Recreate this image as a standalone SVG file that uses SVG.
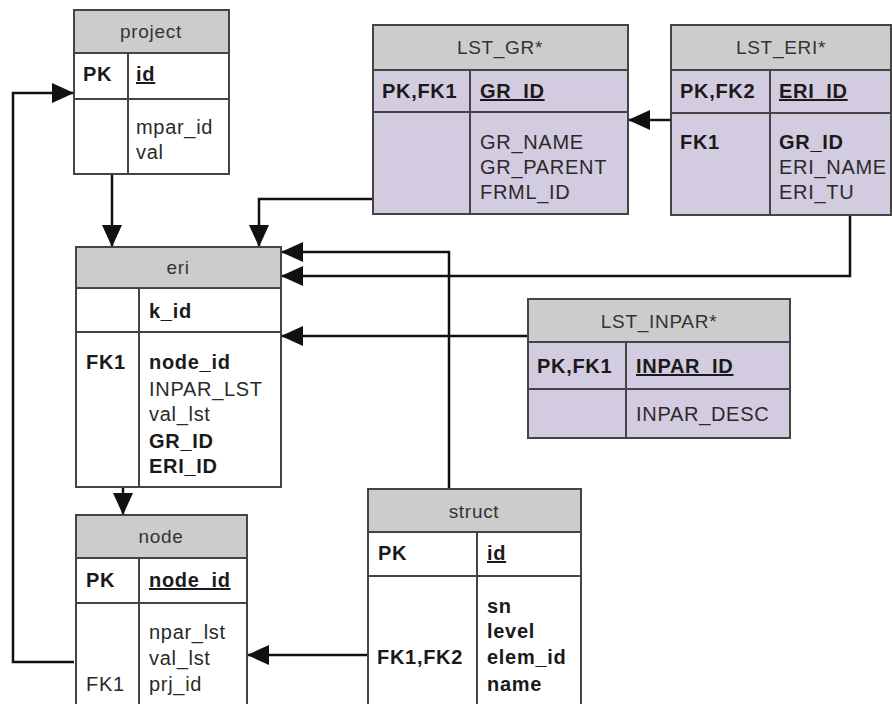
<svg xmlns="http://www.w3.org/2000/svg" width="892" height="704" viewBox="0 0 892 704">
<defs>
<marker id="arr" markerUnits="userSpaceOnUse" markerWidth="24" markerHeight="22" refX="22" refY="10" orient="auto">
<path d="M0,0 L22,10 L0,20 Z" fill="#111"/>
</marker>
<style>
.box{fill:#fff;stroke:#444;stroke-width:2}
.lav{fill:#d3cbdf;stroke:#444;stroke-width:2}
.hdr{fill:#cccccc;stroke:#444;stroke-width:2}
.ln{stroke:#444;stroke-width:2;fill:none}
.t{font-family:"Liberation Sans",Arial,sans-serif;font-size:20px;letter-spacing:0.7px;fill:#2a2a2a}
.h{font-family:"Liberation Sans",Arial,sans-serif;font-size:19px;letter-spacing:0.7px;fill:#333;text-anchor:middle}
.b{font-weight:bold;fill:#1a1a1a}
.u{text-decoration:underline}
.c{fill:none;stroke:#111;stroke-width:2.5}
</style>
</defs>
<rect width="892" height="704" fill="#fff"/>

<g id="connectors">
<polyline class="c" points="74,662 13,662 13,93 74,93" marker-end="url(#arr)"/>
<polyline class="c" points="112,174 112,247" marker-end="url(#arr)"/>
<polyline class="c" points="373,199 259,199 259,247" marker-end="url(#arr)"/>
<polyline class="c" points="671,120 628,120" marker-end="url(#arr)"/>
<polyline class="c" points="850,215 850,276 281,276" marker-end="url(#arr)"/>
<polyline class="c" points="449,489 449,252 281,252" marker-end="url(#arr)"/>
<polyline class="c" points="528,336 281,336" marker-end="url(#arr)"/>
<polyline class="c" points="123,487 123,515" marker-end="url(#arr)"/>
<polyline class="c" points="368,655 247,655" marker-end="url(#arr)"/>
</g>

<g id="project">
<rect class="box" x="74" y="10" width="155" height="164"/>
<rect class="hdr" x="74" y="10" width="155" height="43"/>
<line class="ln" x1="74" y1="99" x2="229" y2="99"/>
<line class="ln" x1="128" y1="53" x2="128" y2="174"/>
<text class="h" x="151" y="38">project</text>
<text class="t b" x="83" y="81">PK</text>
<text class="t b u" x="136" y="81">id</text>
<text class="t" x="136" y="134">mpar_id</text>
<text class="t" x="136" y="159">val</text>
</g>

<g id="LST_GR">
<rect class="lav" x="373" y="25" width="255" height="189"/>
<rect class="hdr" x="373" y="25" width="255" height="45"/>
<line class="ln" x1="373" y1="112" x2="628" y2="112"/>
<line class="ln" x1="470" y1="70" x2="470" y2="214"/>
<text class="h" x="500" y="54">LST_GR*</text>
<text class="t b" x="382" y="98">PK,FK1</text>
<text class="t b u" x="480" y="98">GR_ID</text>
<text class="t" x="480" y="149">GR_NAME</text>
<text class="t" x="480" y="174">GR_PARENT</text>
<text class="t" x="480" y="199">FRML_ID</text>
</g>

<g id="LST_ERI">
<rect class="lav" x="671" y="25" width="220" height="190"/>
<rect class="hdr" x="671" y="25" width="220" height="45"/>
<line class="ln" x1="671" y1="113" x2="891" y2="113"/>
<line class="ln" x1="770" y1="70" x2="770" y2="215"/>
<text class="h" x="781" y="54">LST_ERI*</text>
<text class="t b" x="680" y="98">PK,FK2</text>
<text class="t b u" x="779" y="98">ERI_ID</text>
<text class="t b" x="680" y="149">FK1</text>
<text class="t b" x="779" y="149">GR_ID</text>
<text class="t" x="779" y="174">ERI_NAME</text>
<text class="t" x="779" y="199">ERI_TU</text>
</g>

<g id="eri">
<rect class="box" x="76" y="247" width="205" height="240"/>
<rect class="hdr" x="76" y="247" width="205" height="41"/>
<line class="ln" x1="76" y1="332" x2="281" y2="332"/>
<line class="ln" x1="139" y1="288" x2="139" y2="487"/>
<text class="h" x="178" y="274">eri</text>
<text class="t b" x="149" y="318">k_id</text>
<text class="t b" x="86" y="369">FK1</text>
<text class="t b" x="149" y="369">node_id</text>
<text class="t" x="149" y="396">INPAR_LST</text>
<text class="t" x="149" y="421">val_lst</text>
<text class="t b" x="149" y="448">GR_ID</text>
<text class="t b" x="149" y="473">ERI_ID</text>
</g>

<g id="LST_INPAR">
<rect class="lav" x="528" y="299" width="262" height="139"/>
<rect class="hdr" x="528" y="299" width="262" height="43"/>
<line class="ln" x1="528" y1="389" x2="790" y2="389"/>
<line class="ln" x1="626" y1="342" x2="626" y2="438"/>
<text class="h" x="659" y="328">LST_INPAR*</text>
<text class="t b" x="537" y="373">PK,FK1</text>
<text class="t b u" x="636" y="373">INPAR_ID</text>
<text class="t" x="636" y="421">INPAR_DESC</text>
</g>

<g id="node">
<rect class="box" x="76" y="515" width="171" height="210"/>
<rect class="hdr" x="76" y="515" width="171" height="43"/>
<line class="ln" x1="76" y1="603" x2="247" y2="603"/>
<line class="ln" x1="139" y1="558" x2="139" y2="725"/>
<text class="h" x="161" y="543">node</text>
<text class="t b" x="86" y="587">PK</text>
<text class="t b u" x="149" y="587">node_id</text>
<text class="t" x="149" y="639">npar_lst</text>
<text class="t" x="149" y="665">val_lst</text>
<text class="t" x="86" y="691">FK1</text>
<text class="t" x="149" y="691">prj_id</text>
</g>

<g id="struct">
<rect class="box" x="368" y="489" width="213" height="236"/>
<rect class="hdr" x="368" y="489" width="213" height="43"/>
<line class="ln" x1="368" y1="576" x2="581" y2="576"/>
<line class="ln" x1="477" y1="532" x2="477" y2="725"/>
<text class="h" x="474" y="518">struct</text>
<text class="t b" x="378" y="560">PK</text>
<text class="t b u" x="487" y="560">id</text>
<text class="t b" x="487" y="613">sn</text>
<text class="t b" x="487" y="638">level</text>
<text class="t b" x="377" y="664">FK1,FK2</text>
<text class="t b" x="487" y="664">elem_id</text>
<text class="t b" x="487" y="691">name</text>
</g>
</svg>
